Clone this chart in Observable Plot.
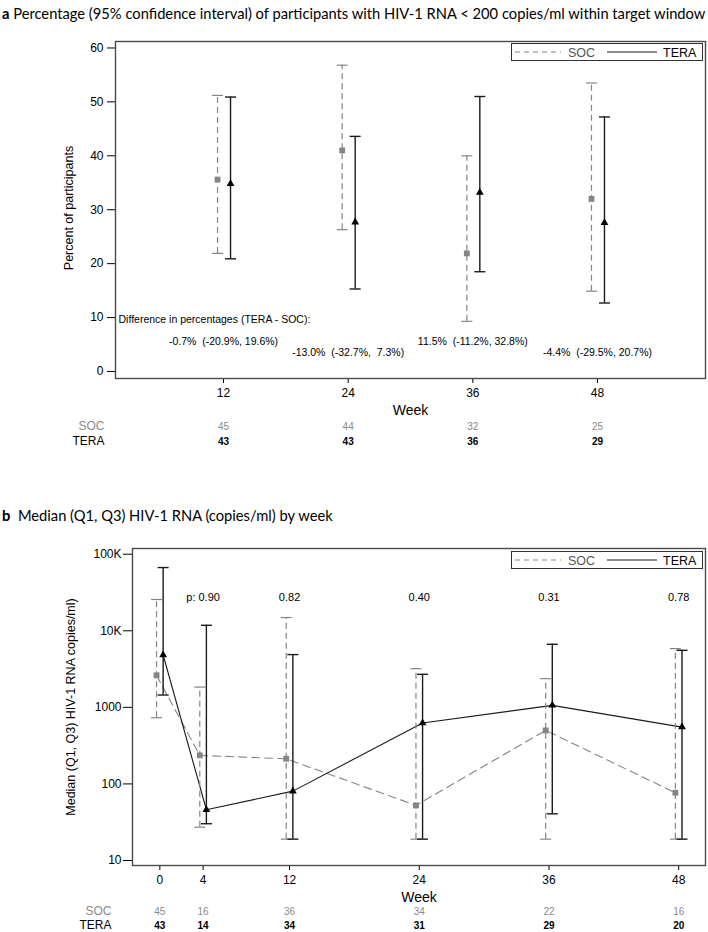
<!DOCTYPE html>
<html>
<head>
<meta charset="utf-8">
<script src="https://cdn.jsdelivr.net/npm/d3@7"></script>
<script src="https://cdn.jsdelivr.net/npm/@observablehq/plot@0.6"></script>
<style>
  html, body { margin: 0; padding: 0; background: #fff; overflow: hidden; }
  #page { position: relative; width: 708px; height: 932px; }
  .title { position: absolute; left: 2px; font-family: Lato, "Open Sans", sans-serif; font-size: 15px; color: #000; white-space: nowrap; }
  .title b { font-weight: 700; }
  .panel { position: absolute; left: 0; }
  .panel svg, .panel svg text, .legend text { font-family: "Liberation Sans", Arial, sans-serif !important; }
  svg text { white-space: pre; }
  .legend { position: absolute; border: 1px solid #333; background: #fff; box-sizing: border-box; }
</style>
</head>
<body>
<div id="page">
  <div class="title" id="titleA" style="top:4px"><b>a</b> Percentage (95% confidence interval) of participants with HIV-1 RNA &lt; 200 copies/ml within target window</div>
  <div class="panel" id="panelA" style="top:24px"></div>
  <div class="title" id="titleB" style="top:506px"><b>b</b>&nbsp; Median (Q1, Q3) HIV-1 RNA (copies/ml) by week</div>
  <div class="panel" id="panelB" style="top:530px"></div>
</div>
<script>
// ---------- Panel a data ----------
const weeksA = [12, 24, 36, 48];
const socPct = [35.6, 41.0, 21.9, 32.0];
const socLo = [21.9, 26.3, 9.3, 14.9];
const socHi = [51.2, 56.8, 40.0, 53.5];
const teraPct = [34.8, 27.7, 33.2, 27.6];
const teraLo = [20.9, 15.3, 18.5, 12.7];
const teraHi = [50.9, 43.6, 51.0, 47.2];
const diffHeader = "Difference in percentages (TERA - SOC):";
const diffText = ["-0.7%  (-20.9%, 19.6%)", "-13.0%  (-32.7%,  7.3%)", "11.5%  (-11.2%, 32.8%)", "-4.4%  (-29.5%, 20.7%)"];
const socNA = [45, 44, 32, 25];
const teraNA = [43, 43, 36, 29];
const yTicksA = [0, 10, 20, 30, 40, 50, 60];

// ---------- Panel b data ----------
const weeksB = [0, 4, 12, 24, 36, 48];
const socMed = [2620, 236, 213, 52.4, 500, 76.7];
const socQ1 = [733, 27.2, 19, 19, 19, 19];
const socQ3 = [25600, 1840, 14900, 3200, 2370, 5850];
const teraMed = [4830, 46, 80.5, 624, 1062, 552];
const teraQ1 = [1449, 30.2, 19, 19, 40.7, 19];
const teraQ3 = [67000, 11800, 4890, 2700, 6670, 5560];
const pWeeks = [4, 12, 24, 36, 48];
const pText = ["p: 0.90", "0.82", "0.40", "0.31", "0.78"];
const socNB = [45, 16, 36, 34, 22, 16];
const teraNB = [43, 14, 34, 31, 29, 20];
const yTicksB = [10, 100, 1000, 10000, 100000];
const yTickLabelsB = ["10", "100", "1000", "10K", "100K"];

const groupLabels = ["SOC", "TERA"];
const SOC_COL = "#858585";
const TERA_COL = "#1a1a1a";

const cap = { draw(ctx, size) { const r = Math.sqrt(size / Math.PI); ctx.moveTo(-r, 0); ctx.lineTo(r, 0); } };
const FONT = "Liberation Sans, Arial, sans-serif";
const STYLE = "font-family: 'Liberation Sans', Arial, sans-serif; font-size: 12px; color: #000; background: #fff;";
const F = {fontFamily: FONT};

// ---------- Panel a ----------
const socA = weeksA.map((w, i) => ({week: w, v: socPct[i], lo: socLo[i], hi: socHi[i], n: socNA[i]}));
const teraA = weeksA.map((w, i) => ({week: w, v: teraPct[i], lo: teraLo[i], hi: teraHi[i], n: teraNA[i]}));
const diffA = weeksA.map((w, i) => ({week: w, t: diffText[i], i}));

function errMarks(rows, y1, y2, dx, color, dash, sw) {
  return [
    Plot.ruleX(rows, {x: "week", y1, y2, dx, stroke: color, strokeWidth: sw, strokeDasharray: dash}),
    Plot.dot(rows, {x: "week", y: y1, dx, symbol: cap, r: 5.5, fill: "none", stroke: color, strokeWidth: sw}),
    Plot.dot(rows, {x: "week", y: y2, dx, symbol: cap, r: 5.5, fill: "none", stroke: color, strokeWidth: sw})
  ];
}

const plotA = Plot.plot({
  width: 708, height: 446,
  marginTop: 17, marginBottom: 92, marginLeft: 115, marginRight: 3,
  style: STYLE,
  x: {domain: [1.6, 58.4], ticks: weeksA, tickSize: 5, tickPadding: 5, label: null},
  y: {domain: [-1.3, 61.2], ticks: yTicksA, tickSize: 8, tickPadding: 4, label: null},
  marks: [
    ...errMarks(socA, "lo", "hi", -6, SOC_COL, "6,4", 1.2),
    ...errMarks(teraA, "lo", "hi", 7, TERA_COL, null, 1.4),
    Plot.dot(socA, {x: "week", y: "v", dx: -6, symbol: "square", r: 3.3, fill: SOC_COL}),
    Plot.dot(teraA, {x: "week", y: "v", dx: 7, symbol: "triangle", r: 2.9, fill: "#000"}),
    Plot.text([diffHeader], {...F, frameAnchor: "bottom-left", dx: 3, dy: -56, textAnchor: "start", fontSize: 10.5}),
    Plot.text(diffA.filter(d => d.i % 2 === 0), {...F, x: "week", text: "t", frameAnchor: "bottom", dy: -34, fontSize: 10.5}),
    Plot.text(diffA.filter(d => d.i % 2 === 1), {...F, x: "week", text: "t", frameAnchor: "bottom", dy: -23, fontSize: 10.5}),
    Plot.text(["Percent of participants"], {...F, frameAnchor: "left", textAnchor: "middle", rotate: -90, dx: -47, dy: -2, fontSize: 12.5}),
    Plot.text(["Week"], {...F, frameAnchor: "bottom", dy: 36.5, fontSize: 14}),
    Plot.text(socA, {...F, x: "week", text: "n", frameAnchor: "bottom", dy: 51, fontSize: 10, fill: "#8a8a8a"}),
    Plot.text(teraA, {...F, x: "week", text: "n", frameAnchor: "bottom", dy: 66, fontSize: 10, fill: "#000", fontWeight: 600}),
    Plot.text([groupLabels[0]], {...F, frameAnchor: "bottom-left", textAnchor: "end", dx: -11, dy: 51, fontSize: 12, fill: "#8a8a8a"}),
    Plot.text([groupLabels[1]], {...F, frameAnchor: "bottom-left", textAnchor: "end", dx: -11, dy: 66, fontSize: 12, fill: "#000"}),
    Plot.frame({stroke: "#4a4a4a", strokeWidth: 1.4})
  ]
});
document.getElementById("panelA").appendChild(plotA);

// ---------- Panel b ----------
const socB = weeksB.map((w, i) => ({week: w, v: socMed[i], lo: socQ1[i], hi: socQ3[i], n: socNB[i]}));
const teraB = weeksB.map((w, i) => ({week: w, v: teraMed[i], lo: teraQ1[i], hi: teraQ3[i], n: teraNB[i]}));
const pRows = pWeeks.map((w, i) => ({week: w, t: pText[i]}));

const plotB = Plot.plot({
  width: 708, height: 402,
  marginTop: 18, marginBottom: 67, marginLeft: 132, marginRight: 3,
  style: STYLE,
  x: {domain: [-2.53, 50.48], ticks: weeksB, tickSize: 5, tickPadding: 5, label: null},
  y: {type: "log", domain: [8.6, 118800], ticks: yTicksB, tickFormat: d => yTickLabelsB[yTicksB.indexOf(d)], tickSize: 9, tickPadding: 2, label: null},
  marks: [
    Plot.line(socB, {x: "week", y: "v", dx: -3.3, stroke: SOC_COL, strokeWidth: 1.1, strokeDasharray: "8,5"}),
    Plot.line(teraB, {x: "week", y: "v", dx: 3.3, stroke: TERA_COL, strokeWidth: 1.1}),
    ...errMarks(socB, "lo", "hi", -3.3, SOC_COL, "6,4", 1.2),
    ...errMarks(teraB, "lo", "hi", 3.3, TERA_COL, null, 1.4),
    Plot.dot(socB, {x: "week", y: "v", dx: -3.3, symbol: "square", r: 3.3, fill: SOC_COL}),
    Plot.dot(teraB, {x: "week", y: "v", dx: 3.3, symbol: "triangle", r: 2.9, fill: "#000"}),
    Plot.text(pRows, {...F, x: "week", text: "t", frameAnchor: "top", dy: 45, fontSize: 11}),
    Plot.text(["Median (Q1, Q3) HIV-1 RNA copies/ml)"], {...F, frameAnchor: "left", textAnchor: "middle", rotate: -90, dx: -62, fontSize: 12.5}),
    Plot.text(["Week"], {...F, frameAnchor: "bottom", dy: 36.7, fontSize: 14}),
    Plot.text(socB, {...F, x: "week", text: "n", frameAnchor: "bottom", dy: 49, fontSize: 10, fill: "#8a8a8a"}),
    Plot.text(teraB, {...F, x: "week", text: "n", frameAnchor: "bottom", dy: 63, fontSize: 10, fill: "#000", fontWeight: 600}),
    Plot.text([groupLabels[0]], {...F, frameAnchor: "bottom-left", textAnchor: "end", dx: -21, dy: 49, fontSize: 12, fill: "#8a8a8a"}),
    Plot.text([groupLabels[1]], {...F, frameAnchor: "bottom-left", textAnchor: "end", dx: -21, dy: 63, fontSize: 12, fill: "#000"}),
    Plot.frame({stroke: "#4a4a4a", strokeWidth: 1.4})
  ]
});
document.getElementById("panelB").appendChild(plotB);

// ---------- Legends ----------
function legend(top) {
  const div = document.createElement("div");
  div.className = "legend";
  div.style.left = "511px";
  div.style.top = top + "px";
  div.style.width = "192px";
  div.style.height = "18px";
  const ns = "http://www.w3.org/2000/svg";
  const svg = document.createElementNS(ns, "svg");
  svg.setAttribute("width", 190); svg.setAttribute("height", 16);
  svg.style.display = "block";
  const items = [
    {x1: 3, x2: 49, tx: 56, label: groupLabels[0], stroke: SOC_COL, dash: "5,4", fill: "#555"},
    {x1: 95, x2: 145, tx: 151, label: groupLabels[1], stroke: TERA_COL, dash: null, fill: "#000"}
  ];
  for (const it of items) {
    const l = document.createElementNS(ns, "line");
    l.setAttribute("x1", it.x1); l.setAttribute("x2", it.x2);
    l.setAttribute("y1", 8); l.setAttribute("y2", 8);
    l.setAttribute("stroke", it.stroke); l.setAttribute("stroke-width", 1.2);
    if (it.dash) l.setAttribute("stroke-dasharray", it.dash);
    svg.appendChild(l);
    const t = document.createElementNS(ns, "text");
    t.setAttribute("x", it.tx); t.setAttribute("y", 12.5);
    t.setAttribute("font-family", FONT); t.setAttribute("font-size", 12.5);
    t.setAttribute("fill", it.fill);
    t.textContent = it.label;
    svg.appendChild(t);
  }
  div.appendChild(svg);
  document.getElementById("page").appendChild(div);
}
legend(24 + 17 + 2);
legend(530 + 18 + 3);

// ---------- Fit title width ----------
const tA = document.getElementById("titleA");
const w = tA.getBoundingClientRect().width;
const fs = 15 * 704 / w;
tA.style.fontSize = fs + "px";
document.getElementById("titleB").style.fontSize = fs + "px";
</script>
</body>
</html>
